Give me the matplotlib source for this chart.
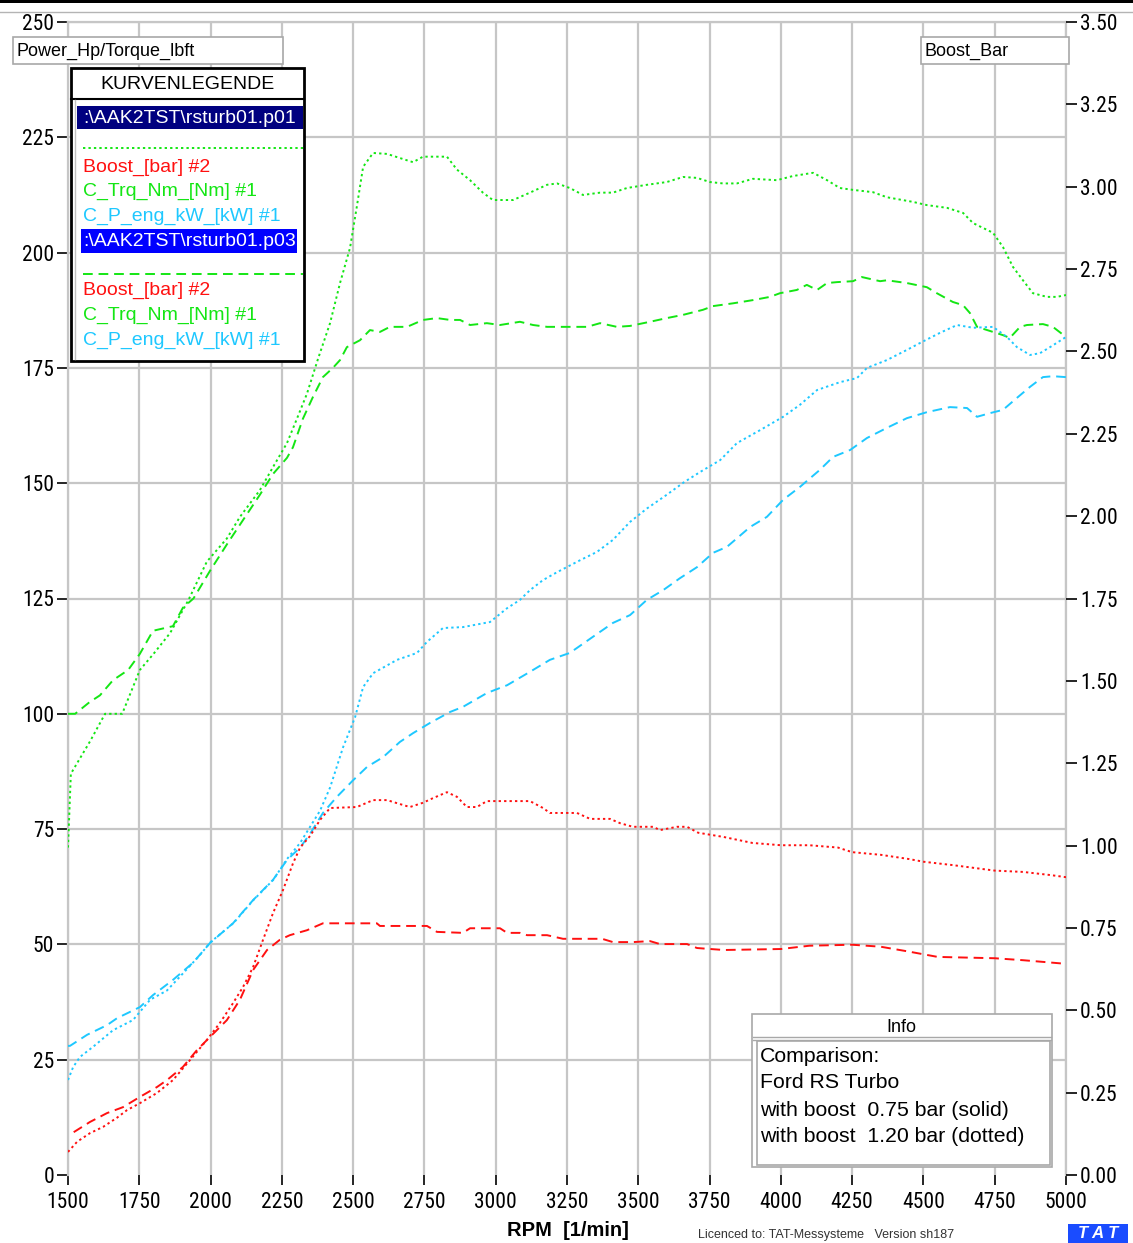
import matplotlib
matplotlib.use("Agg")
import matplotlib.pyplot as plt
from matplotlib import font_manager
from matplotlib.patches import Rectangle
from matplotlib.ticker import FuncFormatter, MultipleLocator

# ---------------------------------------------------------------- data
# Test p01: boost 1.20 bar (dotted curves)
rpm_tq_hi = [1500, 1510, 1577, 1630, 1690, 1752, 1800, 1858, 1921, 1987, 2057, 2103,
             2173, 2219, 2268, 2303, 2338, 2377, 2419, 2454, 2489, 2513, 2535, 2570,
             2619, 2664, 2710, 2745, 2829, 2864, 2910, 2955, 2990, 3061, 3120, 3180,
             3215, 3260, 3306, 3366, 3411, 3460, 3530, 3600, 3657, 3706, 3751, 3797,
             3846, 3902, 3986, 4042, 4113, 4162, 4207, 4253, 4323, 4372, 4463, 4512,
             4583, 4639, 4674, 4744, 4779, 4814, 4849, 4884, 4933, 4968, 5000]
tq_hi = [71, 87, 94, 100, 100, 109.5, 113, 117.5, 124.5, 133, 138, 142.7,
         148.5, 153.5, 158.7, 164, 169.4, 177, 184.7, 193.4, 201, 210, 218.6, 221.6,
         221.4, 220.5, 219.6, 220.8, 220.8, 218, 215.7, 213, 211.4, 211.4, 213, 214.7,
         215, 214, 212.5, 213, 213, 214, 214.7, 215.3, 216.4, 216.2, 215.3, 215,
         215, 216, 215.7, 216.6, 217.3, 215.7, 214, 213.6, 213.1, 212, 211, 210.3,
         209.7, 208.6, 206.4, 204.3, 201.2, 196.9, 194, 191.2, 190.4, 190.4, 190.8]

rpm_p_hi = [1500, 1518, 1542, 1588, 1658, 1728, 1788, 1847, 1900, 1960, 2000, 2080,
            2150, 2220, 2268, 2314, 2349, 2384, 2419, 2465, 2507, 2535, 2570, 2654,
            2724, 2759, 2815, 2885, 2980, 3040, 3085, 3120, 3166, 3215, 3296, 3355,
            3411, 3471, 3530, 3600, 3660, 3716, 3787, 3846, 3927, 4008, 4067, 4127,
            4207, 4267, 4302, 4372, 4442, 4488, 4558, 4618, 4674, 4744, 4793, 4828,
            4874, 4909, 4944, 5000]
p_hi = [20.6, 23.4, 25.6, 27.8, 31.4, 33.6, 38, 40, 43.5, 47.5, 50.5, 54.6,
        59.6, 64, 68.5, 72, 75.5, 79, 84, 92.8, 99.3, 105.8, 108.8, 111.7,
        113.2, 115.6, 118.6, 118.8, 119.9, 122.9, 124.7, 126.8, 129, 130.7, 133.3, 135.1,
        137.7, 141.6, 144.5, 147.5, 150.2, 152.4, 155, 158.7, 161.5, 164.4, 167, 170.2,
        171.9, 172.8, 175, 176.7, 178.9, 180.4, 182.6, 184.3, 183.7, 183.9, 181.7, 179.5,
        177.8, 178.2, 179.5, 181.7]

rpm_boost_hi = [1500, 1532, 1577, 1623, 1672, 1707, 1752, 1812, 1868, 1928, 1987, 2033,
                2079, 2114, 2149, 2184, 2219, 2254, 2289, 2314, 2349, 2384, 2419, 2513,
                2570, 2619, 2664, 2699, 2745, 2780, 2829, 2864, 2899, 2934, 2969, 3120,
                3166, 3190, 3285, 3331, 3401, 3436, 3481, 3552, 3576, 3636, 3671, 3710,
                3800, 3900, 4000, 4100, 4200, 4250, 4350, 4450, 4500, 4600, 4750, 4850,
                4950, 5000]
boost_hi = [0.070, 0.101, 0.127, 0.146, 0.174, 0.197, 0.218, 0.249, 0.288, 0.349, 0.410, 0.462,
            0.522, 0.571, 0.631, 0.714, 0.795, 0.865, 0.946, 0.994, 1.029, 1.078, 1.114, 1.117,
            1.138, 1.138, 1.126, 1.117, 1.130, 1.144, 1.162, 1.148, 1.117, 1.117, 1.135, 1.135,
            1.114, 1.099, 1.099, 1.081, 1.081, 1.068, 1.057, 1.057, 1.047, 1.057, 1.057, 1.039,
            1.026, 1.008, 1.001, 1.001, 0.994, 0.980, 0.972, 0.959, 0.951, 0.941, 0.924, 0.920,
            0.910, 0.904]

# Test p03: boost 0.75 bar (dashed curves)
rpm_tq_lo = [1500, 1525, 1575, 1612, 1658, 1711, 1752, 1798, 1868, 1903, 1940, 1998,
             2060, 2103, 2173, 2219, 2268, 2289, 2324, 2359, 2394, 2429, 2454, 2478,
             2524, 2559, 2594, 2629, 2689, 2745, 2794, 2840, 2875, 2910, 2969, 3015,
             3085, 3131, 3180, 3260, 3320, 3366, 3425, 3471, 3541, 3600, 3657, 3727,
             3762, 3832, 3902, 3962, 3997, 4056, 4091, 4127, 4162, 4197, 4253, 4284,
             4348, 4372, 4442, 4512, 4547, 4603, 4639, 4663, 4688, 4744, 4779, 4803,
             4839, 4863, 4919, 4954, 5000]
tq_lo = [100, 100, 102.5, 104, 107.3, 109.5, 113, 118, 119, 123, 125, 131,
         137, 141, 147.5, 152, 155.5, 157.8, 164, 168.7, 173, 175, 176.7, 179.5,
         181, 183.2, 182.8, 183.9, 183.9, 185.4, 185.8, 185.4, 185.4, 184.3, 184.7, 184.3,
         185, 184.3, 183.9, 183.9, 183.9, 184.7, 183.9, 184.1, 185, 185.8, 186.5, 187.6,
         188.4, 189, 189.7, 190.4, 191.2, 191.9, 193, 191.9, 193.4, 193.6, 193.8, 194.7,
         193.8, 194, 193.4, 192.5, 191.2, 189.3, 188.6, 186.9, 183.9, 182.8, 182.1, 181.5,
         183.9, 184.3, 184.5, 183.9, 181.7]

rpm_p_lo = [1500, 1507, 1567, 1637, 1672, 1752, 1798, 1868, 1938, 1998, 2079, 2149,
            2219, 2268, 2314, 2349, 2394, 2443, 2500, 2549, 2605, 2664, 2710, 2769,
            2840, 2885, 2969, 3040, 3120, 3190, 3260, 3341, 3411, 3471, 3530, 3587,
            3646, 3706, 3762, 3811, 3892, 3951, 4008, 4067, 4137, 4183, 4243, 4302,
            4372, 4442, 4512, 4593, 4653, 4688, 4734, 4779, 4828, 4874, 4919, 4954, 5000]
p_lo = [28, 28, 30.4, 32.5, 34, 36.4, 39, 42.3, 46, 50.3, 54.6, 59.6,
        64, 68.3, 71, 74, 78.5, 82, 85.6, 88.5, 90.6, 93.9, 95.8, 98,
        100.4, 101.5, 104.5, 106.2, 109.1, 111.7, 113.2, 116.7, 119.7, 121.4, 124.7, 126.8,
        129.4, 131.8, 134.9, 136.2, 140.5, 142.7, 146.4, 149.2, 152.9, 155.7, 157.2, 159.8,
        162, 164.1, 165.4, 166.5, 166.3, 164.4, 165.2, 165.9, 168.5, 170.9, 173, 173.2, 173]

rpm_boost_lo = [1520, 1577, 1637, 1693, 1752, 1812, 1847, 1903, 1952, 1998, 2057, 2103,
                2149, 2198, 2243, 2278, 2338, 2394, 2583, 2594, 2759, 2794, 2885, 2910,
                3015, 3040, 3085, 3110, 3180, 3236, 3373, 3411, 3481, 3541, 3576, 3671,
                3706, 3800, 4000, 4100, 4250, 4350, 4450, 4550, 4750, 4850, 5000]
boost_lo = [0.130, 0.161, 0.188, 0.206, 0.237, 0.267, 0.288, 0.328, 0.379, 0.419, 0.470, 0.532,
            0.622, 0.683, 0.714, 0.728, 0.743, 0.764, 0.764, 0.756, 0.756, 0.738, 0.735, 0.749,
            0.749, 0.735, 0.735, 0.728, 0.728, 0.717, 0.717, 0.707, 0.707, 0.710, 0.701, 0.701,
            0.689, 0.683, 0.686, 0.696, 0.699, 0.693, 0.678, 0.662, 0.658, 0.652, 0.641]

rpm_ticks = list(range(1500, 5001, 250))
left_ticks = list(range(0, 251, 25))

legend_files = [r":\AAK2TST\rsturb01.p01", r":\AAK2TST\rsturb01.p03"]
legend_channels = ["Boost_[bar] #2", "C_Trq_Nm_[Nm] #1", "C_P_eng_kW_[kW] #1"]
info_lines = ["Comparison:", "Ford RS Turbo",
              "with boost  0.75 bar (solid)", "with boost  1.20 bar (dotted)"]

# ---------------------------------------------------------------- style
names = {f.name for f in font_manager.fontManager.ttflist}
SANS = "Liberation Sans"
NARROW = SANS
for cand in ("Liberation Sans Narrow", "Roboto Condensed", "Open Sans Condensed",
             "DejaVu Sans Condensed"):
    if cand in names:
        NARROW = cand
        break
TICK_SIZE = 15.5 if NARROW != SANS else 14.5
plt.rcParams["font.family"] = [NARROW, "DejaVu Sans"]

GREEN = "#14e614"
RED = "#ff1010"
CYAN = "#1ec8ff"
GRIDC = "#c6c6c6"
DOT = (0, (1.2, 1.6))
DASH = (0, (5, 3))
LW = 1.4

W, H = 1133, 1243
fig = plt.figure(figsize=(W / 100, H / 100), dpi=100)
fig.patch.set_facecolor("white")

L, R, T, B = 68, 1066, 22, 1175
ax = fig.add_axes([L / W, 1 - B / H, (R - L) / W, (B - T) / H])
ax2 = ax.twinx()

ax.set_xlim(1500, 5000)
ax.set_ylim(0, 250)
ax2.set_ylim(0, 3.5)

# grid
for v in left_ticks[1:]:
    ax.axhline(v, color=GRIDC, lw=1.6, zorder=0)
for r in rpm_ticks:
    ax.axvline(r, color=GRIDC, lw=1.6, zorder=0)

for s in ("left", "right", "top"):
    ax.spines[s].set_color(GRIDC)
    ax.spines[s].set_linewidth(1.6)
ax.spines["bottom"].set_visible(False)
for s in ax2.spines.values():
    s.set_visible(False)

# curves
ax.plot(rpm_tq_hi, tq_hi, color=GREEN, lw=LW, ls=DOT, zorder=3)
ax.plot(rpm_tq_lo, tq_lo, color=GREEN, lw=LW, ls=DASH, zorder=3)
ax.plot(rpm_p_hi, p_hi, color=CYAN, lw=LW, ls=DOT, zorder=3)
ax.plot(rpm_p_lo, p_lo, color=CYAN, lw=LW, ls=DASH, zorder=3)
ax2.plot(rpm_boost_hi, boost_hi, color=RED, lw=LW, ls=DOT, zorder=3)
ax2.plot(rpm_boost_lo, boost_lo, color=RED, lw=LW, ls=DASH, zorder=3)

# ticks
ax.set_xticks(rpm_ticks)
ax.set_yticks(left_ticks)
ax.yaxis.set_major_formatter(FuncFormatter(lambda v, p: f"{v:.0f}"))
ax2.yaxis.set_major_locator(MultipleLocator(0.25))
ax2.yaxis.set_major_formatter(FuncFormatter(lambda v, p: f"{v:.2f}"))
ax.tick_params(axis="x", direction="out", length=7, width=1.2, pad=5,
               labelsize=TICK_SIZE, colors="black")
ax.tick_params(axis="y", direction="out", length=8, width=1.2, pad=2,
               labelsize=TICK_SIZE, colors="black")
ax2.tick_params(axis="y", direction="out", length=8, width=1.2, pad=2,
                labelsize=TICK_SIZE, colors="black")

# ---------------------------------------------------------------- annotations (pixel space)
ov = fig.add_axes([0, 0, 1, 1])
ov.set_xlim(0, W)
ov.set_ylim(H, 0)
ov.axis("off")
ov.set_zorder(10)
ov.patch.set_alpha(0)


def box(x0, y0, x1, y1, ec="#a8a8a8", fc="white", lw=1.2, z=1):
    ov.add_patch(Rectangle((x0, y0), x1 - x0, y1 - y0, facecolor=fc,
                           edgecolor=ec, lw=lw, zorder=z))


# window edge
ov.add_patch(Rectangle((0, 0), W, 3, facecolor="black", edgecolor="none"))
ov.plot([0, W], [12, 12], color="#b4b4b4", lw=1)

# axis titles
box(13, 37, 283, 64)
ov.text(17, 51, "Power_Hp/Torque_lbft", fontsize=13, family=SANS, va="center", ha="left")
box(921, 37, 1069, 64)
ov.text(925, 51, "Boost_Bar", fontsize=13, family=SANS, va="center", ha="left")

# curve legend
box(71, 68, 304, 361, ec="black", lw=2)
ov.plot([71, 304], [99, 99], color="black", lw=1.5, zorder=2)
ov.plot([75, 75], [100, 359], color="#c0c0c0", lw=1, zorder=2)
ov.text(187.5, 84, "KURVENLEGENDE", fontsize=14, family=SANS, ha="center", va="center", zorder=3)

hl_colors = ["#000080", "#0000ff"]
hl_spans = [(77, 303, 106, 129), (81, 297, 229, 253)]
sample_y = [148, 274]
sample_ls = [DOT, DASH]
chan_y = [[167, 191, 216], [290, 315, 340]]
chan_colors = [RED, GREEN, CYAN]
for i in range(2):
    x0, x1, y0, y1 = hl_spans[i]
    box(x0, y0, x1, y1, ec="none", fc=hl_colors[i], lw=0, z=2)
    ov.text(83, (y0 + y1) / 2 + 0.5, legend_files[i], fontsize=14, family=SANS, color="white",
            ha="left", va="center", zorder=3)
    ov.plot([83, 303], [sample_y[i]] * 2, color=GREEN, lw=LW, ls=sample_ls[i], zorder=3)
    for y, txt, c in zip(chan_y[i], legend_channels, chan_colors):
        ov.text(83, y, txt, fontsize=14, family=SANS, color=c, ha="left", va="center", zorder=3)

# info box
box(752, 1014, 1052, 1167)
ov.text(901, 1027, "Info", fontsize=13, family=SANS, ha="center", va="center", zorder=3)
ov.plot([753, 1051], [1037, 1037], color="#a8a8a8", lw=1, zorder=2)
ov.plot([753, 1051], [1040, 1040], color="#a8a8a8", lw=1, zorder=2)
box(757, 1041, 1050, 1165, z=2)
for y, txt in zip([1057, 1083, 1110, 1136], info_lines):
    ov.text(760, y, txt, fontsize=15.3, family=SANS, ha="left", va="center", zorder=3)

# x axis title and footer
ov.text(568, 1231, "RPM  [1/min]", fontsize=14.5, family=SANS, weight="bold",
        ha="center", va="center")
ov.text(698, 1235, "Licenced to: TAT-Messysteme   Version sh187", fontsize=9,
        family=SANS, color="#333333", ha="left", va="center")
ov.add_patch(Rectangle((1068, 1224), 60, 19, facecolor="#1a4cff", edgecolor="none"))
ov.text(1098, 1234, "T A T", fontsize=12, family=SANS, weight="bold", style="italic",
        color="white", ha="center", va="center")

fig.savefig("out.png", dpi=100, facecolor="white")
